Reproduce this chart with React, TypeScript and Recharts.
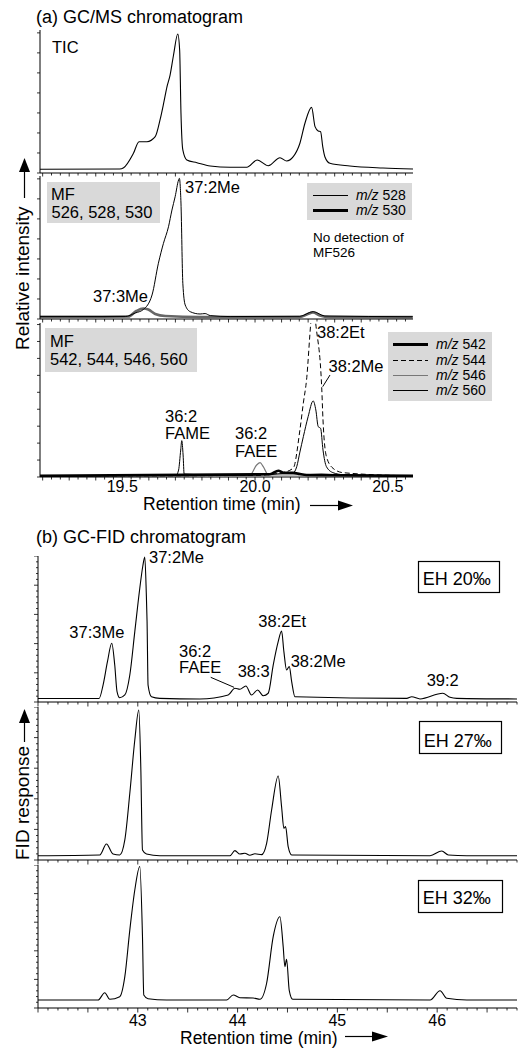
import { Line, LineChart, XAxis, YAxis } from 'recharts'

type Pt = { t: number; v: number }
type Trace = { data: Pt[]; color: string; width: number; dash?: string }

const FONT = '"Liberation Sans", Arial, Helvetica, sans-serif'

// (a) GC/MS – retention time (min) and intensity (% of each sub-panel height)
const ticTime = [19.19, 19.49, 19.505, 19.542, 19.563, 19.593, 19.624, 19.643, 19.656, 19.668, 19.68, 19.693, 19.709, 19.716, 19.721, 19.728, 19.743, 19.781, 19.831, 19.906, 19.969, 20.008, 20.05, 20.094, 20.119, 20.144, 20.169, 20.188, 20.213, 20.226, 20.238, 20.247, 20.255, 20.263, 20.282, 20.357, 20.482, 20.595]
const ticInt = [2.6, 2.8, 3.7, 13.8, 21.9, 21.9, 25.4, 37.8, 49.0, 60.1, 68.5, 82.5, 97.2, 86.0, 42.0, 16.1, 9.1, 7.2, 4.9, 4.0, 4.0, 9.1, 5.1, 10.7, 8.4, 11.4, 20.8, 34.8, 45.9, 32.4, 29.4, 28.9, 18.4, 11.4, 6.8, 4.9, 3.5, 2.8]

const mf528Time = [19.19, 19.511, 19.549, 19.579, 19.612, 19.636, 19.655, 19.674, 19.687, 19.699, 19.712, 19.715, 19.721, 19.728, 19.737, 19.756, 19.793, 19.812, 19.831, 19.906, 20.169, 20.219, 20.263, 20.594]
const mf528Int = [1.7, 1.7, 4.2, 6.6, 16.8, 39.0, 52.9, 64.5, 76.2, 85.5, 97.2, 98.4, 81.1, 25.0, 9.8, 5.1, 3.5, 3.8, 2.4, 1.7, 1.9, 5.2, 2.1, 1.6]
const mf530Time = [19.19, 19.523, 19.553, 19.579, 19.598, 19.624, 19.662, 19.793, 20.169, 20.199, 20.218, 20.244, 20.282, 20.594]
const mf530Int = [1.5, 1.7, 5.6, 7.3, 6.6, 3.5, 2.1, 1.4, 1.4, 3.5, 4.5, 2.5, 1.4, 1.3]

const mf542Time = [19.19, 20.056, 20.088, 20.106, 20.144, 20.169, 20.194, 20.595]
const mf542Int = [0.7, 1.8, 4.1, 2.8, 2.8, 1.9, 1.3, 0.7]
const mf544Time = [19.19, 20.0, 20.106, 20.144, 20.169, 20.182, 20.194, 20.211, 20.22, 20.228, 20.251, 20.256, 20.269, 20.294, 20.332, 20.595]
const mf544Int = [0.7, 1.0, 3.0, 5.8, 30.5, 48.1, 63.0, 101.9, 115, 100.8, 58.6, 37.0, 13.2, 5.6, 2.8, 0.7]
const mf546Time = [19.19, 19.981, 20.006, 20.019, 20.031, 20.05, 20.2, 20.25, 20.3, 20.595]
const mf546Int = [0.7, 1.3, 7.8, 9.3, 6.7, 1.3, 1.6, 2.0, 1.4, 0.7]
const mf560Time = [19.19, 19.703, 19.712, 19.72, 19.724, 19.729, 19.733, 19.9, 20.144, 20.157, 20.169, 20.182, 20.2, 20.219, 20.229, 20.238, 20.247, 20.256, 20.269, 20.294, 20.332, 20.595]
const mf560Int = [0.7, 1.3, 4.5, 17.5, 23.6, 14.3, 1.9, 1.0, 2.8, 6.7, 16.2, 26.2, 39.2, 49.4, 43.5, 32.7, 31.6, 17.5, 6.7, 2.8, 1.5, 0.7]

// (b) GC-FID – retention time (min) and FID response (% of each sub-panel height)
const eh20Time = [42.0, 42.612, 42.652, 42.696, 42.739, 42.769, 42.792, 42.819, 42.87, 42.92, 42.97, 43.02, 43.05, 43.07, 43.085, 43.093, 43.103, 43.137, 43.221, 43.622, 43.906, 43.973, 44.023, 44.083, 44.14, 44.201, 44.257, 44.307, 44.357, 44.407, 44.441, 44.464, 44.491, 44.518, 44.542, 44.575, 45.695, 45.745, 45.828, 46.056, 46.129, 46.197, 46.8]
const eh20Resp = [2.4, 2.4, 11.6, 27.6, 40.2, 25.3, 7.1, 2.9, 4.8, 18.5, 48.2, 77.9, 93.0, 99.3, 75.0, 55.0, 11.6, 3.6, 2.5, 2.1, 4.8, 9.4, 8.7, 11.0, 4.8, 8.2, 4.3, 6.0, 25.3, 41.3, 48.6, 34.5, 21.9, 24.2, 13.9, 3.6, 2.5, 3.6, 2.1, 6.0, 3.2, 2.5, 2.1]
const eh27Time = [42.0, 42.619, 42.686, 42.752, 42.819, 42.87, 42.92, 42.97, 43.01, 43.03, 43.047, 43.087, 43.221, 43.923, 43.973, 44.023, 44.073, 44.123, 44.174, 44.241, 44.291, 44.341, 44.407, 44.441, 44.464, 44.481, 44.507, 44.542, 45.929, 46.046, 46.112, 46.297, 46.8]
const eh27Resp = [2.8, 3.3, 10.5, 3.9, 3.3, 13.1, 43.6, 78.4, 98.0, 61.0, 6.5, 3.9, 2.8, 2.8, 6.1, 3.9, 4.4, 3.1, 4.1, 3.5, 10.9, 32.7, 54.9, 34.8, 20.7, 21.8, 8.7, 3.3, 2.8, 5.9, 3.3, 2.8, 2.8]
const eh32Time = [42.0, 42.602, 42.669, 42.719, 42.819, 42.87, 42.92, 42.97, 43.02, 43.047, 43.06, 43.103, 43.288, 43.89, 43.956, 44.023, 44.156, 44.224, 44.291, 44.357, 44.424, 44.457, 44.474, 44.491, 44.518, 44.552, 45.929, 46.029, 46.096, 46.297, 46.8]
const eh32Resp = [5.6, 5.6, 10.7, 6.1, 7.9, 21.9, 54.5, 82.5, 99.0, 49.9, 9.1, 6.5, 5.6, 5.6, 9.1, 7.2, 7.0, 6.1, 17.3, 49.9, 63.8, 42.9, 28.9, 34.1, 12.1, 6.1, 5.6, 12.1, 6.8, 5.6, 5.6]

const gcmsLabelTicks = [19.5, 20.0, 20.5]
const fidLabelTicks = [43, 44, 45, 46]

const zip = (t: number[], v: number[]): Pt[] => t.map((x, i) => ({ t: x, v: v[i] }))
const near = (a: number, b: number) => Math.abs(a - b) < 1e-6

// minor ticks: 2 s steps for GC/MS, 0.1 min for GC-FID
const gcmsTicks = Array.from({ length: 42 }, (_, i) => (576 + i) / 30)
const fidTicks = Array.from({ length: 49 }, (_, i) => (420 + i) / 10)
const steps = (step: number, max: number) => Array.from({ length: Math.floor(max / step) + 1 }, (_, i) => i * step)

type PanelProps = {
  left: number
  right: number
  top: number
  bottom: number
  domain: [number, number]
  xTicks: number[]
  xTickLen: (v: number) => number
  xLabel: (v: number) => string
  labelDy: number
  yTicks: number[]
  yTickLen: (v: number) => number
  traces: Trace[]
}

function Panel(p: PanelProps) {
  const yw = 8
  const xh = 26
  return (
    <div style={{ position: 'absolute', left: p.left - yw, top: p.top }}>
      <LineChart
        width={p.right - p.left + yw + 2}
        height={p.bottom - p.top + xh}
        margin={{ top: 0, right: 2, bottom: 0, left: 0 }}
      >
        <XAxis
          type="number"
          dataKey="t"
          domain={p.domain}
          allowDataOverflow
          ticks={p.xTicks}
          interval={0}
          height={xh}
          tickSize={0}
          tickMargin={0}
          tickLine={false}
          axisLine={{ stroke: '#000', strokeWidth: 1 }}
          tick={(t: any) => (
            <g>
              <line x1={t.x} x2={t.x} y1={t.y} y2={t.y + p.xTickLen(t.payload.value)} stroke="#000" strokeWidth={0.8} />
              <text x={t.x} y={t.y + p.labelDy} textAnchor="middle" fontSize={16} fill="#000" fontFamily={FONT}>
                {p.xLabel(t.payload.value)}
              </text>
            </g>
          )}
        />
        <YAxis
          type="number"
          domain={[0, 100]}
          allowDataOverflow
          ticks={p.yTicks}
          interval={0}
          width={yw}
          tickSize={0}
          tickMargin={0}
          tickLine={false}
          axisLine={{ stroke: '#000', strokeWidth: 1 }}
          tick={(t: any) => (
            <line x1={t.x} x2={t.x - p.yTickLen(t.payload.value)} y1={t.y} y2={t.y} stroke="#000" strokeWidth={0.8} />
          )}
        />
        {p.traces.map((tr, i) => (
          <Line
            key={i}
            data={tr.data}
            dataKey="v"
            type="monotone"
            stroke={tr.color}
            strokeWidth={tr.width}
            strokeDasharray={tr.dash}
            dot={false}
            activeDot={false}
            isAnimationActive={false}
          />
        ))}
      </LineChart>
    </div>
  )
}

function T({ x, y, s = 16.5, children }: { x: number; y: number; s?: number; children: React.ReactNode }) {
  return (
    <text x={x} y={y} fontSize={s} fill="#000" fontFamily={FONT}>
      {children}
    </text>
  )
}

const gcmsX = {
  left: 40,
  right: 413,
  domain: [19.19, 20.595] as [number, number],
  xTicks: gcmsTicks,
  xTickLen: (v: number) => (Math.round(v * 30) % 3 === 0 ? 3.5 : 2.5),
  labelDy: 15,
}
const fidX = {
  left: 38,
  right: 517,
  domain: [42.0, 46.8] as [number, number],
  xTicks: fidTicks,
  xTickLen: (v: number) => (Math.round(v * 10) % 5 === 0 ? 4.5 : 2.5),
  labelDy: 18,
}
const noLabel = () => ''
const fidY = { yTicks: steps(4, 100), yTickLen: (v: number) => (v % 20 === 0 ? 4 : 2) }

export default function App() {
  return (
    <div style={{ position: 'absolute', left: 0, top: 0, width: 521, height: 1048, overflow: 'hidden', background: '#fff', fontFamily: FONT }}>
      <Panel {...gcmsX} top={30} bottom={173} xLabel={noLabel} yTicks={steps(14, 100)} yTickLen={() => 3}
        traces={[{ data: zip(ticTime, ticInt), color: '#000', width: 1.1 }]} />
      <Panel {...gcmsX} top={176} bottom={319} xLabel={noLabel} yTicks={steps(14, 100)} yTickLen={() => 3}
        traces={[
          { data: zip(mf530Time, mf530Int), color: '#666', width: 2.6 },
          { data: zip(mf528Time, mf528Int), color: '#000', width: 1 },
        ]} />
      <Panel {...gcmsX} top={323} bottom={477}
        xLabel={(v) => (gcmsLabelTicks.some((m) => near(m, v)) ? v.toFixed(1) : '')}
        yTicks={steps(11, 100)} yTickLen={() => 3}
        traces={[
          { data: zip(mf546Time, mf546Int), color: '#777', width: 1.2 },
          { data: zip(mf542Time, mf542Int), color: '#000', width: 2.6 },
          { data: zip(mf544Time, mf544Int), color: '#000', width: 1, dash: '5 3' },
          { data: zip(mf560Time, mf560Int), color: '#000', width: 1 },
        ]} />

      <Panel {...fidX} {...fidY} top={556} bottom={702} xLabel={noLabel}
        traces={[{ data: zip(eh20Time, eh20Resp), color: '#000', width: 1.1 }]} />
      <Panel {...fidX} {...fidY} top={707} bottom={860} xLabel={noLabel}
        traces={[{ data: zip(eh27Time, eh27Resp), color: '#000', width: 1.1 }]} />
      <Panel {...fidX} {...fidY} top={865} bottom={1008}
        xLabel={(v) => (fidLabelTicks.some((m) => near(m, v)) ? String(Math.round(v)) : '')}
        traces={[{ data: zip(eh32Time, eh32Resp), color: '#000', width: 1.1 }]} />

      <svg width={521} height={1048} style={{ position: 'absolute', left: 0, top: 0, pointerEvents: 'none' }}>
        {/* (a) */}
        <T x={36} y={22.7} s={18}>(a) GC/MS chromatogram</T>
        <T x={52} y={53}>TIC</T>
        <rect x={47} y={182} width={113} height={41} fill="#d9d9d9" />
        <T x={51} y={200}>MF</T>
        <T x={51.5} y={218}>526, 528, 530</T>
        <rect x={307} y={183} width={105} height={37} fill="#d9d9d9" />
        <line x1={313} x2={348} y1={195.5} y2={195.5} stroke="#000" strokeWidth={1} />
        <line x1={313} x2={348} y1={210.5} y2={210.5} stroke="#000" strokeWidth={3} />
        <T x={356} y={199.5} s={14}><tspan fontStyle="italic">m/z</tspan> 528</T>
        <T x={356} y={214.5} s={14}><tspan fontStyle="italic">m/z</tspan> 530</T>
        <T x={313} y={242} s={13.5}>No detection of</T>
        <T x={313} y={257} s={13.5}>MF526</T>
        <T x={185} y={193}>37:2Me</T>
        <T x={93} y={302}>37:3Me</T>

        <rect x={45} y={328} width={152} height={44} fill="#d9d9d9" />
        <T x={50} y={347}>MF</T>
        <T x={50} y={365}>542, 544, 546, 560</T>
        <rect x={388} y={332} width={104} height={69} fill="#d9d9d9" />
        <line x1={393} x2={428} y1={344.5} y2={344.5} stroke="#000" strokeWidth={3} />
        <line x1={393} x2={428} y1={360.5} y2={360.5} stroke="#000" strokeWidth={1} strokeDasharray="5 3" />
        <line x1={393} x2={428} y1={375.5} y2={375.5} stroke="#777" strokeWidth={1.2} />
        <line x1={393} x2={428} y1={390.5} y2={390.5} stroke="#000" strokeWidth={1} />
        <T x={436} y={349} s={14}><tspan fontStyle="italic">m/z</tspan> 542</T>
        <T x={436} y={364.5} s={14}><tspan fontStyle="italic">m/z</tspan> 544</T>
        <T x={436} y={380} s={14}><tspan fontStyle="italic">m/z</tspan> 546</T>
        <T x={436} y={395} s={14}><tspan fontStyle="italic">m/z</tspan> 560</T>
        <T x={165} y={421.7}>36:2</T>
        <T x={165} y={439.3}>FAME</T>
        <T x={235} y={439}>36:2</T>
        <T x={235} y={456.7}>FAEE</T>
        <T x={317} y={338.3}>38:2Et</T>
        <T x={328.5} y={371.7}>38:2Me</T>
        <line x1={330} y1={375} x2={322.7} y2={386.7} stroke="#000" strokeWidth={1} />

        <T x={143} y={510} s={17.5}>Retention time (min)</T>
        <line x1={310} x2={340} y1={505.5} y2={505.5} stroke="#000" strokeWidth={1.2} />
        <polygon points="353,505.5 338,500.5 338,510.5" fill="#000" />
        <text transform="translate(29,350) rotate(-90)" fontSize={19} fill="#000" fontFamily={FONT}>Relative intensity</text>
        <line x1={24.5} x2={24.5} y1={198} y2={170} stroke="#000" strokeWidth={1.2} />
        <polygon points="24.5,158 19,172 30,172" fill="#000" />

        {/* (b) */}
        <T x={36} y={542.7} s={18}>(b) GC-FID chromatogram</T>
        <T x={149} y={563.3}>37:2Me</T>
        <T x={69.3} y={638.3}>37:3Me</T>
        <T x={179} y={657}>36:2</T>
        <T x={179} y={673.3}>FAEE</T>
        <line x1={210.7} y1={677.3} x2={234} y2={687.3} stroke="#000" strokeWidth={1} />
        <T x={237.7} y={677.3}>38:3</T>
        <T x={258.3} y={626.7}>38:2Et</T>
        <T x={290.7} y={666.7}>38:2Me</T>
        <T x={426.7} y={686}>39:2</T>

        <rect x={418.5} y={561.5} width={81} height={31} fill="#fff" stroke="#000" strokeWidth={1.2} />
        <T x={422.7} y={585} s={18}>EH 20‰</T>
        <rect x={419.5} y={721.5} width={82} height={32} fill="#fff" stroke="#000" strokeWidth={1.2} />
        <T x={423.7} y={747} s={18}>EH 27‰</T>
        <rect x={418.5} y={880.5} width={84} height={32} fill="#fff" stroke="#000" strokeWidth={1.2} />
        <T x={422.7} y={904} s={18}>EH 32‰</T>

        <T x={180} y={1044} s={17.5}>Retention time (min)</T>
        <line x1={345} x2={374} y1={1036.5} y2={1036.5} stroke="#000" strokeWidth={1.2} />
        <polygon points="388,1036.5 372,1031.5 372,1041.5" fill="#000" />
        <text transform="translate(29,860) rotate(-90)" fontSize={19} fill="#000" fontFamily={FONT}>FID response</text>
        <line x1={24.5} x2={24.5} y1={742} y2={720} stroke="#000" strokeWidth={1.2} />
        <polygon points="24.5,709 19,723 30,723" fill="#000" />
      </svg>
    </div>
  )
}
